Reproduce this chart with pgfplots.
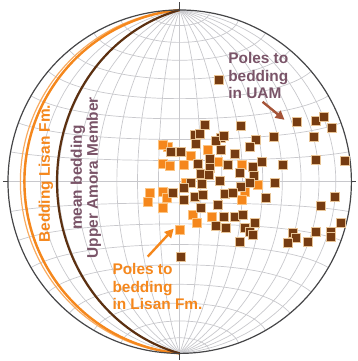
\documentclass[border=0pt]{standalone}
\usepackage{fontspec}
\setmainfont{Liberation Sans}
\usepackage{pgfplots}
\pgfplotsset{compat=1.18}
\usetikzlibrary{arrows.meta}

\definecolor{netgrid}{RGB}{200,200,204}
\definecolor{primitive}{RGB}{70,70,72}
\definecolor{lisan}{RGB}{245,135,28}
\definecolor{lisanedge}{RGB}{252,196,130}
\definecolor{uam}{RGB}{118,60,18}
\definecolor{uamedge}{RGB}{232,196,150}
\definecolor{meanbed}{RGB}{92,48,16}
\definecolor{uamtext}{RGB}{122,84,104}
\definecolor{uamarrow}{RGB}{165,84,56}

% net radius (equal-area, lower hemisphere)
\def\R{172}
% dips of the N-S striking, west-dipping bedding planes
\def\lisanDipA{8}
\def\lisanDipB{10.5}
\def\meanDip{29.3}

\begin{document}
\begin{tikzpicture}
\begin{axis}[
  scale only axis, width=357bp, height=361bp,
  xmin=-180, xmax=177, ymin=-179, ymax=182,
  hide axis, clip=false,
  grid line/.style={netgrid, line width=0.7bp, no marks, samples=61},
  every axis plot post/.append style={},
]
\path (rel axis cs:0,0) rectangle (rel axis cs:1,1);

% Schmidt net: great circles through N and S
\pgfplotsinvokeforeach{10,20,...,80}{
  \addplot[grid line, domain=0:180]
    ({-\R*sin(x)*cos(#1)/sqrt(1+sin(x)*sin(#1))},{\R*cos(x)/sqrt(1+sin(x)*sin(#1))});
  \addplot[grid line, domain=0:180]
    ({\R*sin(x)*cos(#1)/sqrt(1+sin(x)*sin(#1))},{\R*cos(x)/sqrt(1+sin(x)*sin(#1))});
}
\addplot[grid line] coordinates {(0,-\R) (0,\R)};
% small circles about the N-S axis
\pgfplotsinvokeforeach{-80,-70,...,80}{
  \addplot[grid line, domain=-90:90]
    ({\R*cos(#1)*sin(x)/sqrt(1+cos(#1)*cos(x))},{\R*sin(#1)/sqrt(1+cos(#1)*cos(x))});
}

% bedding great circles
\addplot[lisan!70!white, line width=1.2bp, no marks, domain=0:180, samples=121]
  ({-\R*sin(x)*cos(\lisanDipA)/sqrt(1+sin(x)*sin(\lisanDipA))},{\R*cos(x)/sqrt(1+sin(x)*sin(\lisanDipA))});
\addplot[lisan, line width=2.4bp, no marks, domain=0:180, samples=121]
  ({-\R*sin(x)*cos(\lisanDipB)/sqrt(1+sin(x)*sin(\lisanDipB))},{\R*cos(x)/sqrt(1+sin(x)*sin(\lisanDipB))});
\addplot[meanbed, line width=2.2bp, no marks, domain=0:180, samples=121]
  ({-\R*sin(x)*cos(\meanDip)/sqrt(1+sin(x)*sin(\meanDip))},{\R*cos(x)/sqrt(1+sin(x)*sin(\meanDip))});

% primitive circle and N, E, S, W ticks
\addplot[primitive, line width=1.2bp, no marks, domain=0:360, samples=181]
  ({\R*cos(x)},{\R*sin(x)});
\draw[primitive, line width=1.2bp] (axis cs:-177,0) -- (axis cs:-172,0);
\draw[primitive, line width=1.2bp] (axis cs:172,0) -- (axis cs:177,0);
\draw[primitive, line width=1.2bp] (axis cs:0,-172) -- (axis cs:0,-179);
\draw[primitive, line width=1.2bp] (axis cs:0,172) -- (axis cs:0,180);

% poles to bedding, Lisan Fm.
\addplot[only marks, mark=square*, mark size=4.6pt,
  mark options={fill=lisan, draw=lisanedge, line width=0.5bp}] table {
x y
-12 35
-17 37
-17 18
-10 16
4 17
11 26
38 20
62 17
28 32
-30 -11
-32 -20
-17 -10
-13 -16
-17 -26
65 -10
62 -18
78 -3
13 -33
17 -41
32 -35
0 -48
6 -1
};

% poles to bedding, Upper Amora Member
\addplot[only marks, mark=square*, mark size=4.6pt,
  mark options={fill=uam, draw=uamedge, line width=0.5bp}] table {
x y
39 102
117 60
136 61
144 65
152 54
134 45
25 57
61 56
94 45
76 42
15 47
20 48
41 44
16 38
36 41
44 46
70 35
55 28
1 30
-9 30
30 23
41 32
18 18
48 17
73 15
82 20
103 17
136 22
165 21
30 14
60 9
74 6
21 8
29 7
11 -1
22 -2
40 1
95 -1
61 -5
70 -1
4 -6
-7 -11
4 -18
15 -15
23 -13
45 -12
53 -11
86 -16
155 -15
141 -24
38 -23
21 -26
44 -35
55 -35
63 -33
75 -41
161 -41
36 -44
46 -46
65 -46
70 -50
73 -53
113 -51
116 -56
136 -50
151 -50
151 -55
108 -61
128 -60
60 -60
1 -75
};

% labels
\node[lisan, rotate=90, anchor=base, font=\fontsize{15.5}{17.5}\selectfont\bfseries]
  at (axis cs:-130,8) {Bedding Lisan Fm.};
\node[uamtext, rotate=90, anchor=base, font=\fontsize{15.5}{17.5}\selectfont\bfseries]
  at (axis cs:-98,4) {mean bedding};
\node[uamtext, rotate=90, anchor=base, font=\fontsize{15.5}{17.5}\selectfont\bfseries]
  at (axis cs:-82,4) {Upper Amora Member};

\node[uamtext, anchor=base west, inner sep=0pt, font=\fontsize{15.5}{17.5}\selectfont\bfseries]
  at (axis cs:48.5,118) {Poles to};
\node[uamtext, anchor=base west, inner sep=0pt, font=\fontsize{15.5}{17.5}\selectfont\bfseries]
  at (axis cs:48.5,100.5) {bedding};
\node[uamtext, anchor=base west, inner sep=0pt, font=\fontsize{15.5}{17.5}\selectfont\bfseries]
  at (axis cs:48.5,83) {in UAM};

\node[lisan, anchor=base west, inner sep=0pt, font=\fontsize{15.5}{17.5}\selectfont\bfseries]
  at (axis cs:-67.5,-93) {Poles to};
\node[lisan, anchor=base west, inner sep=0pt, font=\fontsize{15.5}{17.5}\selectfont\bfseries]
  at (axis cs:-67.5,-110.5) {bedding};
\node[lisan, anchor=base west, inner sep=0pt, font=\fontsize{15.5}{17.5}\selectfont\bfseries]
  at (axis cs:-67.5,-128) {in Lisan Fm.};

% arrows
\draw[uamarrow, line width=2.4bp, -{Triangle[length=9bp, width=9bp]}]
  (axis cs:83,80) -- (axis cs:105,62);
\draw[lisan, line width=2.4bp, -{Triangle[length=9bp, width=9bp]}]
  (axis cs:-32,-75) -- (axis cs:-6,-47);
\end{axis}
\end{tikzpicture}
\end{document}
